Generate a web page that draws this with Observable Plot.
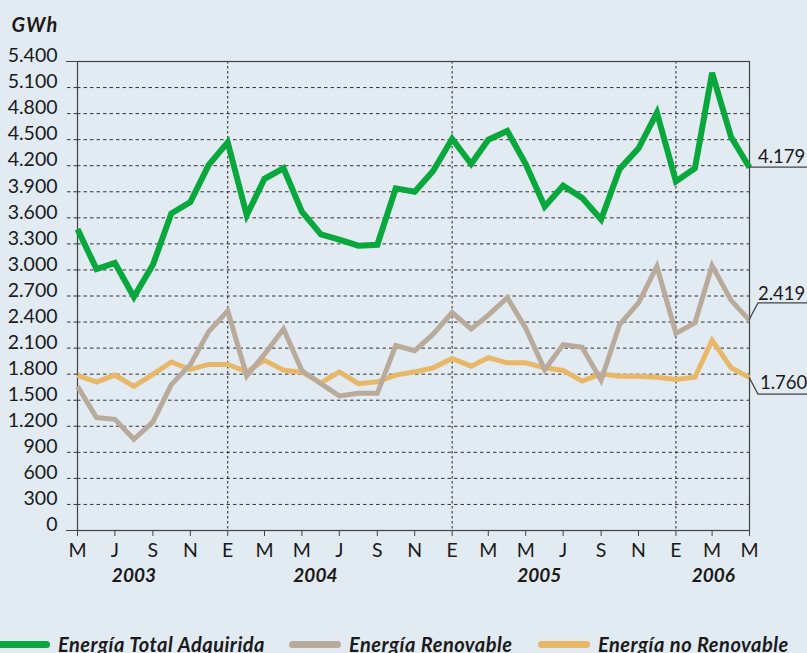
<!DOCTYPE html>
<html><head><meta charset="utf-8">
<script src="https://cdn.jsdelivr.net/npm/d3@7"></script>
<script src="https://cdn.jsdelivr.net/npm/@observablehq/plot@0.6"></script>
<style>
html,body{margin:0;padding:0;background:#e2eaf2;}
#wrap{position:relative;width:807px;height:653px;overflow:hidden;font-family:Lato,sans-serif;color:#1a1a1a;}
#chart{position:absolute;left:0;top:0;}
.item{position:absolute;top:633px;height:22px;display:flex;align-items:center;font-weight:700;font-style:italic;font-size:20px;letter-spacing:0.5px;white-space:nowrap;}
.sw{display:inline-block;height:7px;border-radius:4px;margin-right:8px;}
</style></head>
<body><div id="wrap"><div id="chart"></div></div>
<script>
// ---- data ----
const months = ["2003-05","2003-06","2003-07","2003-08","2003-09","2003-10","2003-11","2003-12",
  "2004-01","2004-02","2004-03","2004-04","2004-05","2004-06","2004-07","2004-08","2004-09","2004-10","2004-11","2004-12",
  "2005-01","2005-02","2005-03","2005-04","2005-05","2005-06","2005-07","2005-08","2005-09","2005-10","2005-11","2005-12",
  "2006-01","2006-02","2006-03","2006-04","2006-05"];
const series = ["Energía Total Adquirida", "Energía Renovable", "Energía no Renovable"];
const total = [3470,3010,3080,2690,3060,3650,3780,4210,4470,3630,4050,4170,3670,3410,3350,3280,3290,3940,3900,4140,
  4510,4220,4500,4600,4220,3730,3970,3830,3580,4160,4400,4810,4020,4170,5270,4530,4179];
const renovable = [1660,1300,1280,1050,1250,1680,1910,2290,2530,1780,2030,2320,1840,1690,1550,1580,1580,2130,2070,2260,
  2510,2320,2480,2680,2330,1850,2140,2110,1730,2370,2620,3040,2270,2390,3050,2650,2419];
const noRenovable = [1785,1708,1789,1660,1797,1940,1854,1912,1912,1827,1960,1846,1823,1700,1827,1690,1712,1789,1827,1873,
  1980,1892,1990,1931,1931,1873,1843,1720,1804,1777,1777,1765,1739,1765,2190,1873,1760];
const xTickMonths = ["2003-05","2003-07","2003-09","2003-11","2004-01","2004-03","2004-05","2004-07","2004-09","2004-11",
  "2005-01","2005-03","2005-05","2005-07","2005-09","2005-11","2006-01","2006-03","2006-05"];
const xTickLabels = ["M","J","S","N","E","M","M","J","S","N","E","M","M","J","S","N","E","M","M"];
const januaryMonths = ["2004-01","2005-01","2006-01"];
const yTicks = [0,300,600,900,1200,1500,1800,2100,2400,2700,3000,3300,3600,3900,4200,4500,4800,5100,5400];
const years = ["2003","2004","2005","2006"];
const yearDates = ["2003-08-01","2004-05-23","2005-05-23","2006-03-03"];
const unit = "GWh";

// ---- build ----
const colors = ["#08a83c", "#b9ab9c", "#e8b868"];
const widths = [6, 5, 5];
const toDate = m => new Date(m.length === 7 ? m + "-01" : m);
const values = [total, renovable, noRenovable];
const rows = values.flatMap((arr, s) => arr.map((v, i) => ({date: toDate(months[i]), value: v, serie: series[s]})));
const loc = d3.formatLocale({decimal: ",", thousands: ".", grouping: [3], currency: ["", ""]});
const fmt = loc.format(",");
const labelByTime = new Map(xTickMonths.map((m, i) => [+toDate(m), xTickLabels[i]]));
const ink = "#1a1a1a";
const axisInk = "#444";

const plot = Plot.plot({
  width: 807, height: 600,
  marginTop: 61, marginBottom: 70, marginLeft: 77, marginRight: 58,
  style: {background: "transparent", fontFamily: "Lato, sans-serif", fontSize: "19px", color: ink},
  x: {type: "utc", domain: [toDate(months[0]), toDate(months[months.length - 1])], label: null},
  y: {domain: [0, 5400], label: null},
  marks: [
    Plot.ruleY(yTicks.slice(1, -1), {stroke: "#333", strokeWidth: 1, strokeDasharray: "3.5,3"}),
    Plot.ruleX(januaryMonths.map(toDate), {stroke: "#222", strokeWidth: 1, strokeDasharray: "2.5,2.5"}),
    Plot.axisY({ticks: yTicks.slice(1, -1), tickSize: 11, fill: "none", stroke: "#333", strokeDasharray: "3.5,3", label: null}),
    Plot.axisY({ticks: [0, 5400], tickSize: 11, fill: "none", stroke: axisInk, label: null}),
    Plot.axisY({ticks: yTicks, tickSize: 0, tickPadding: 20, tickFormat: fmt, dy: -5.5, fill: ink, stroke: "none", fontSize: 19.5, label: null}),
    Plot.frame({stroke: axisInk, strokeWidth: 1.2}),
    Plot.axisX({ticks: xTickMonths.map(toDate), tickSize: 6, tickPadding: 7, tickFormat: d => labelByTime.get(+d), stroke: axisInk, fill: ink, fontSize: 19.5, label: null}),
    Plot.text(years, {x: yearDates.map(toDate), frameAnchor: "bottom", dy: 51, fontWeight: "bold", fontStyle: "italic", fontSize: 19, fill: ink}),
    Plot.text([unit], {frameAnchor: "top-left", dx: -66, dy: -30, lineAnchor: "bottom", textAnchor: "start", fontWeight: "bold", fontStyle: "italic", fontSize: 20, fill: ink}),
    ...[2, 1, 0].map(s => Plot.line(rows.filter(d => d.serie === series[s]), {
      x: "date", y: "value", stroke: colors[s], strokeWidth: widths[s],
      strokeLinejoin: "miter", strokeMiterlimit: 4, strokeLinecap: "butt"
    }))
  ]
});
document.getElementById("chart").appendChild(plot);
d3.select(plot).selectAll("text").filter(function() { return this.textContent === unit; }).attr("letter-spacing", "1px");

// end-value labels with leader lines, positioned through the plot's scales
const xs = plot.scale("x"), ys = plot.scale("y");
const svg = d3.select(plot);
const x0 = xs.apply(toDate(months[months.length - 1]));
const xRight = 807;
const ends = [total, renovable, noRenovable].map(a => a[a.length - 1]);
const shifts = [0, -17, 17];
const textShift = [-4, -20, 12];
ends.forEach((v, k) => {
  const y = ys.apply(v);
  const yl = y + shifts[k];
  const pts = shifts[k] === 0 ? [[x0, y], [xRight, y]] : [[x0, y], [x0 + 9, yl], [xRight, yl]];
  svg.append("path").attr("d", d3.line()(pts)).attr("fill", "none").attr("stroke", axisInk).attr("stroke-width", 1.2);
  svg.append("text").attr("x", x0 + (k === 2 ? 11 : 9)).attr("y", y + textShift[k])
    .attr("text-anchor", "start")
    .attr("font-family", "Lato, sans-serif").attr("font-size", 18.5).attr("fill", ink).text(fmt(v));
});

// legend
const lefts = [0, 289, 538];
const swW = [50, 52, 52];
const wrap = document.getElementById("wrap");
series.forEach((name, s) => {
  const it = document.createElement("div");
  it.className = "item";
  it.style.left = lefts[s] + "px";
  const sw = document.createElement("span");
  sw.className = "sw";
  sw.style.width = swW[s] + "px";
  sw.style.background = colors[s];
  if (s === 0) { sw.style.borderTopLeftRadius = "0"; sw.style.borderBottomLeftRadius = "0"; }
  it.appendChild(sw);
  const t = document.createElement("span");
  t.textContent = name;
  it.appendChild(t);
  wrap.appendChild(it);
});
</script></body></html>
